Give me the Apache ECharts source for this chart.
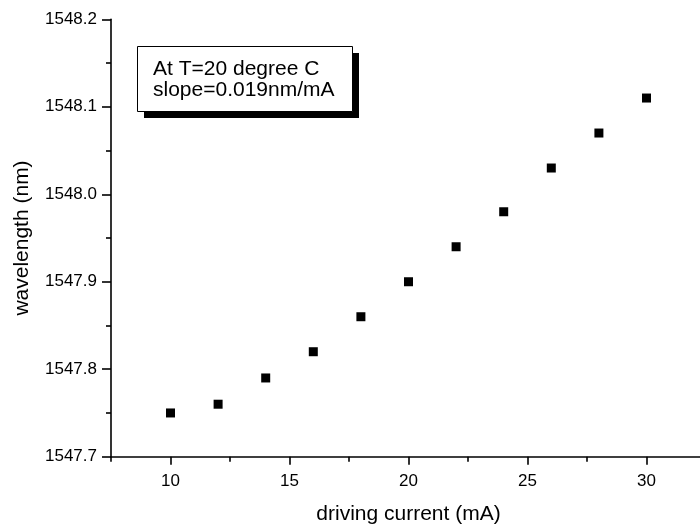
<!DOCTYPE html>
<html>
<head>
<meta charset="utf-8">
<script src="https://cdn.jsdelivr.net/npm/echarts@6/dist/echarts.min.js"></script>
<style>html,body{margin:0;padding:0;background:#fff}#c{width:700px;height:524px}</style>
</head>
<body>
<div id="c"></div>
<script>
const currents = [10, 12, 14, 16, 18, 20, 22, 24, 26, 28, 30];
const wavelengths = [1547.75, 1547.76, 1547.79, 1547.82, 1547.86, 1547.90, 1547.94, 1547.98, 1548.03, 1548.07, 1548.11];
const xMajorTicks = [10, 15, 20, 25, 30];
const xMinorTicks = [7.5, 12.5, 17.5, 22.5, 27.5, 32.5];
const annotationLines = ['At T=20 degree C', 'slope=0.019nm/mA'];
const xTitle = 'driving current (mA)';
const yTitle = 'wavelength (nm)';

const FONT = 'Liberation Sans, Arial, sans-serif';
const chart = echarts.init(document.getElementById('c'), null, {renderer: 'canvas'});
const pts = currents.map((x, i) => [x, wavelengths[i]]);

chart.setOption({
  animation: false,
  backgroundColor: '#fff',
  grid: {left: 111, top: 19.3, bottom: 67.3, right: -6, containLabel: false, outerBoundsMode: 'none'},
  xAxis: [{
    type: 'value', min: 7.5, max: 32.5,
    name: xTitle, nameLocation: 'middle', nameGap: 47,
    nameTextStyle: {fontFamily: FONT, fontSize: 21, color: '#000'},
    axisLine: {show: true, lineStyle: {color: '#000', width: 1.6}},
    axisTick: {show: true, inside: false, length: 8, customValues: xMajorTicks, lineStyle: {color: '#000', width: 1.6}},
    axisLabel: {show: true, customValues: xMajorTicks, margin: 16, fontFamily: FONT, fontSize: 17, color: '#000'},
    splitLine: {show: false}
  }, {
    type: 'value', min: 7.5, max: 32.5, position: 'bottom',
    axisLine: {show: false},
    axisTick: {show: true, inside: false, length: 5, customValues: xMinorTicks, lineStyle: {color: '#000', width: 1.6}},
    axisLabel: {show: false},
    splitLine: {show: false}
  }],
  yAxis: {
    type: 'value', min: 1547.7, max: 1548.2, interval: 0.1,
    name: yTitle, nameLocation: 'middle', nameGap: 78, nameRotate: 90,
    nameTextStyle: {fontFamily: FONT, fontSize: 21, color: '#000'},
    axisLine: {show: true, lineStyle: {color: '#000', width: 1.6}},
    axisTick: {show: true, inside: false, length: 9, lineStyle: {color: '#000', width: 1.6}},
    minorTick: {show: true, splitNumber: 2, length: 5, lineStyle: {color: '#000', width: 1.6}},
    axisLabel: {margin: 14, fontFamily: FONT, fontSize: 17, color: '#000', formatter: v => v.toFixed(1)},
    splitLine: {show: false},
    minorSplitLine: {show: false}
  },
  series: [{
    type: 'scatter',
    xAxisIndex: 0,
    data: pts,
    symbol: 'rect',
    symbolSize: 9,
    itemStyle: {color: '#000', opacity: 1}
  }],
  graphic: [
    {type: 'rect', shape: {x: 144, y: 53, width: 215, height: 65}, style: {fill: '#000'}},
    {type: 'rect', shape: {x: 137.5, y: 46.5, width: 215, height: 65}, style: {fill: '#fff', stroke: '#000', lineWidth: 1}},
    {type: 'text', x: 153, y: 69, style: {text: annotationLines[0], font: '21px ' + FONT, fill: '#000', textVerticalAlign: 'middle', verticalAlign: 'middle'}},
    {type: 'text', x: 153, y: 90, style: {text: annotationLines[1], font: '21px ' + FONT, fill: '#000', textVerticalAlign: 'middle', verticalAlign: 'middle'}}
  ]
});
</script>
</body>
</html>
